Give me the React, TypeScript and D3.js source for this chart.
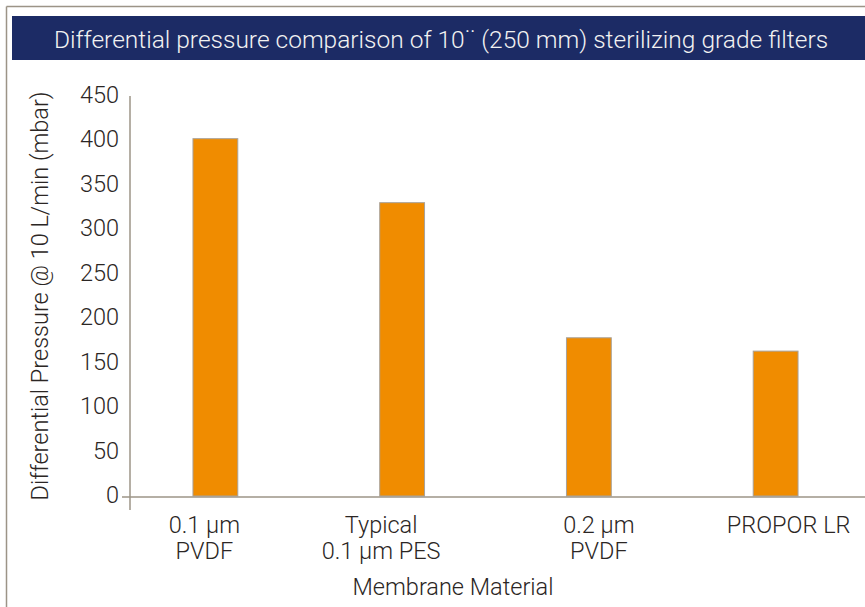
import React from 'react';
import * as d3 from 'd3';

// chart values
const categories = ['0.1 µm|PVDF', 'Typical|0.1 µm PES', '0.2 µm|PVDF', 'PROPOR LR'];
const pressures = [402, 330, 178, 163];
const yTicks = [0, 50, 100, 150, 200, 250, 300, 350, 400, 450];

const W = 865;
const H = 607;
const font = 'Roboto, "DejaVu Sans", sans-serif';
const textColor = '#2b2624';
const axisColor = '#9c9487';
const fs = 23.5;
// the original's category labels are hand-placed, not quite centred under the bars
const labelShift = [-11, -21, 10, 13];

const App: React.FC = () => {
  const x = d3.scaleBand<string>()
    .domain(categories)
    .range([122, 869])
    .paddingInner(0.76)
    .paddingOuter(0.38);

  const y = d3.scaleLinear()
    .domain([0, 450])
    .range([496, 96]);

  return (
    <svg width={W} height={H} style={{ position: 'absolute', left: 0, top: 0 }} fontFamily={font} fontWeight={300}>
      <rect x={0} y={0} width={W} height={H} fill="#fff" />
      {/* frame */}
      <line x1={6.5} y1={6.5} x2={W} y2={6.5} stroke={axisColor} strokeWidth={1.5} />
      <line x1={6.5} y1={6.5} x2={6.5} y2={H} stroke={axisColor} strokeWidth={1.5} />

      {/* title bar */}
      <rect x={12} y={16} width={W - 12} height={44} fill="#1c2b65" />
      <text x={441} y={48} textAnchor="middle" fill="#f2f2f2" fontSize={24.5}>
        Differential pressure comparison of 10¨ (250 mm) sterilizing grade filters
      </text>

      {/* y axis */}
      <line x1={130} y1={y(450)} x2={130} y2={510} stroke={axisColor} strokeWidth={1.5} />
      {yTicks.map(t => (
        <text key={t} x={119} y={y(t) + 7} textAnchor="end" fontSize={fs} fill={textColor}>
          {t}
        </text>
      ))}
      <text
        transform={`translate(48,${y(225)}) rotate(-90)`}
        textAnchor="middle"
        fontSize={fs}
        fill={textColor}
      >
        Differential Pressure @ 10 L/min (mbar)
      </text>

      {/* bars */}
      {categories.map((c, i) => (
        <rect
          key={c}
          x={x(c)!}
          y={y(pressures[i])}
          width={x.bandwidth()}
          height={y(0) - y(pressures[i])}
          fill="#f08c00"
          stroke="#a8a29a"
          strokeWidth={1}
        />
      ))}

      {/* x axis */}
      <line x1={122} y1={y(0) + 1} x2={W} y2={y(0) + 1} stroke={axisColor} strokeWidth={1.5} />
      {categories.map((c, i) => {
        const cx = x(c)! + x.bandwidth() / 2 + labelShift[i];
        return (
          <text key={c} textAnchor="middle" fontSize={fs} fill={textColor}>
            {c.split('|').map((line, j) => (
              <tspan key={j} x={cx} y={533 + j * 26}>{line}</tspan>
            ))}
          </text>
        );
      })}
      <text x={453} y={595} textAnchor="middle" fontSize={fs} fill={textColor}>
        Membrane Material
      </text>
    </svg>
  );
};

export default App;
